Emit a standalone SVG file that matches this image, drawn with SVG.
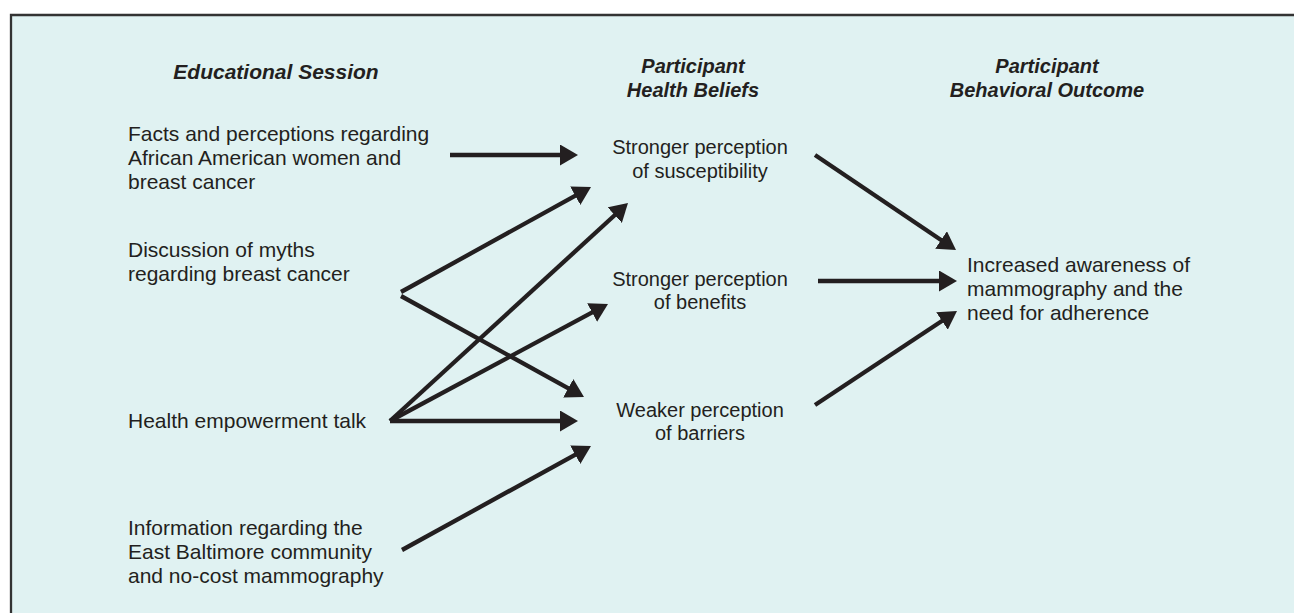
<svg xmlns="http://www.w3.org/2000/svg" width="1294" height="613" viewBox="0 0 1294 613">
<style>
  .hdr { font-family: "Liberation Sans", Arial, sans-serif; font-weight: bold; font-style: italic; font-size: 20px; fill: #231f20; text-anchor: middle; }
  .lt { font-family: "Liberation Sans", Arial, sans-serif; font-size: 21px; fill: #231f20; }
  .mid { font-family: "Liberation Sans", Arial, sans-serif; font-size: 20px; fill: #231f20; text-anchor: middle; }
  .edge { stroke: #231f20; stroke-width: 4.3; fill: none; marker-end: url(#ah); }
</style>
<defs>
  <marker id="ah" markerUnits="userSpaceOnUse" markerWidth="18" markerHeight="21" refX="8" refY="10.5" orient="auto" viewBox="0 0 18 21">
    <path d="M0,0 L18,10.5 L0,21 z" fill="#231f20"/>
  </marker>
</defs>
<rect x="0" y="0" width="1294" height="613" fill="#ffffff"/>
<rect x="11" y="15" width="1283" height="598" fill="#e0f2f2"/>
<path d="M11,613 L11,15 L1294,15" fill="none" stroke="#333333" stroke-width="2.3"/>

<g id="headers">
  <text class="hdr" x="276" y="79" style="font-size:21px">Educational Session</text>
  <text class="hdr" x="693" y="73">Participant</text>
  <text class="hdr" x="693" y="97">Health Beliefs</text>
  <text class="hdr" x="1047" y="73">Participant</text>
  <text class="hdr" x="1047" y="97">Behavioral Outcome</text>
</g>

<g id="node-facts">
  <text class="lt" x="128" y="141">Facts and perceptions regarding</text>
  <text class="lt" x="128" y="165">African American women and</text>
  <text class="lt" x="128" y="189">breast cancer</text>
</g>
<g id="node-myths">
  <text class="lt" x="128" y="257">Discussion of myths</text>
  <text class="lt" x="128" y="281">regarding breast cancer</text>
</g>
<g id="node-empowerment">
  <text class="lt" x="128" y="428">Health empowerment talk</text>
</g>
<g id="node-information">
  <text class="lt" x="128" y="535">Information regarding the</text>
  <text class="lt" x="128" y="559">East Baltimore community</text>
  <text class="lt" x="128" y="583">and no-cost mammography</text>
</g>

<g id="node-susceptibility">
  <text class="mid" x="700" y="154">Stronger perception</text>
  <text class="mid" x="700" y="178">of susceptibility</text>
</g>
<g id="node-benefits">
  <text class="mid" x="700" y="286">Stronger perception</text>
  <text class="mid" x="700" y="309">of benefits</text>
</g>
<g id="node-barriers">
  <text class="mid" x="700" y="417">Weaker perception</text>
  <text class="mid" x="700" y="440">of barriers</text>
</g>

<g id="node-outcome">
  <text class="lt" x="967" y="272">Increased awareness of</text>
  <text class="lt" x="967" y="296">mammography and the</text>
  <text class="lt" x="967" y="320">need for adherence</text>
</g>

<g id="connectors">
  <line class="edge" x1="450" y1="155" x2="568" y2="155"/>
  <line class="edge" x1="401" y1="292" x2="582.25" y2="191.84"/>
  <line class="edge" x1="401" y1="296" x2="575.24" y2="392.17"/>
  <line class="edge" x1="390" y1="421" x2="620.63" y2="209.75"/>
  <line class="edge" x1="390" y1="421" x2="599.19" y2="308.73"/>
  <line class="edge" x1="390" y1="421" x2="568" y2="421"/>
  <line class="edge" x1="402" y1="550" x2="582.24" y2="450.82"/>
  <line class="edge" x1="815" y1="155" x2="947.71" y2="244.41"/>
  <line class="edge" x1="818" y1="281" x2="947" y2="281"/>
  <line class="edge" x1="815" y1="405" x2="948.66" y2="316.52"/>
</g>
</svg>
